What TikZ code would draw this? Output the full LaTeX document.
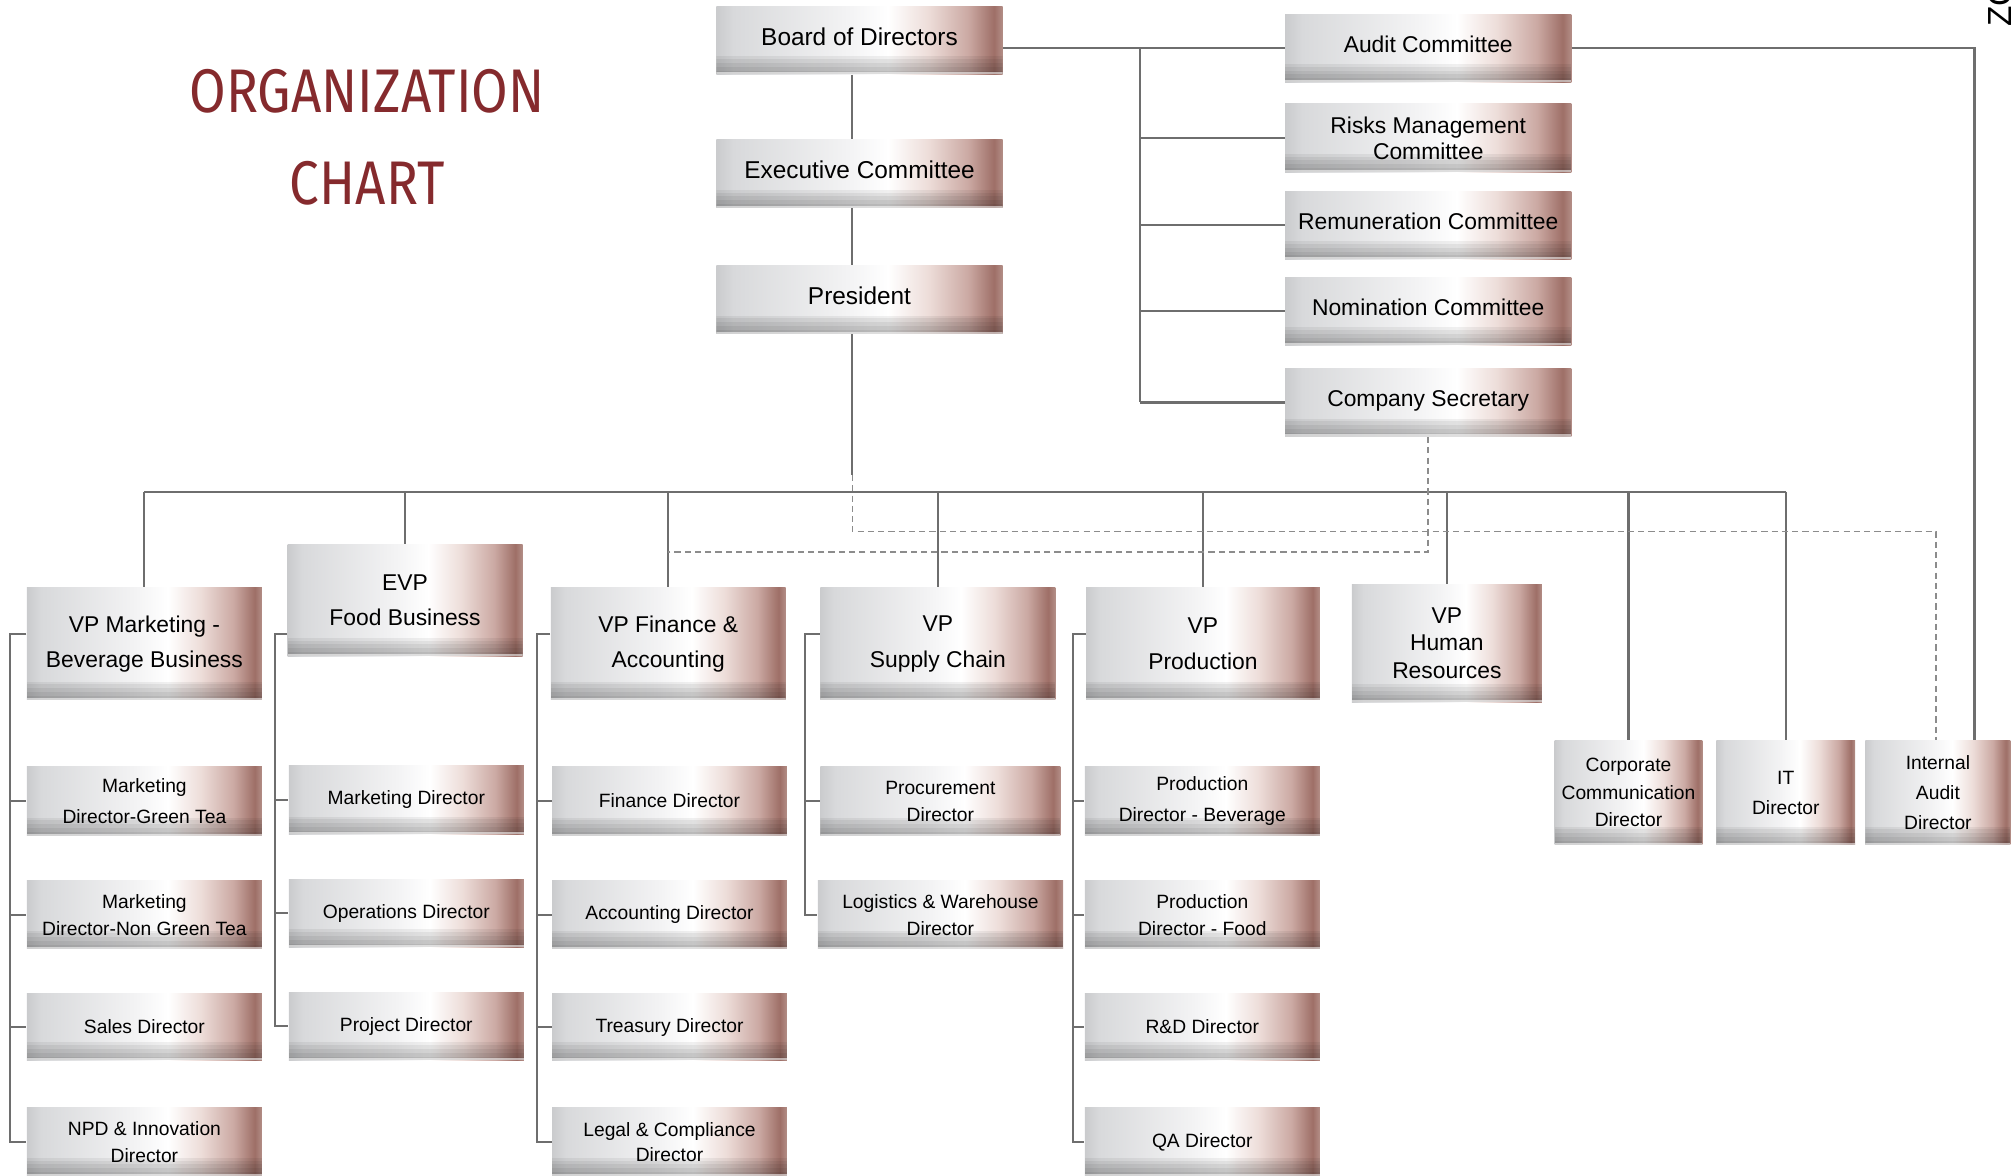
\documentclass[tikz,border=0pt]{standalone}
\usepackage{fontspec}
\setmainfont{Liberation Sans}
\newfontfamily\titlefont{Fira Sans}
\definecolor{sh0}{HTML}{CACBCD}
\definecolor{sh1}{HTML}{D8D9DB}
\definecolor{sh2}{HTML}{F3F3F4}
\definecolor{sh3}{HTML}{EDDDD9}
\definecolor{sh4}{HTML}{CBA9A3}
\definecolor{sh5}{HTML}{9E6F67}
\definecolor{sh6}{HTML}{B38E87}
\definecolor{linec}{HTML}{6E6E6E}
\definecolor{dashc}{HTML}{8C8C8C}
\definecolor{titlec}{HTML}{852A2D}
\pgfdeclarehorizontalshading{boxshade}{100bp}{color(0bp)=(sh0); color(25bp)=(sh0); color(28bp)=(sh1); color(48bp)=(sh2); color(55bp)=(white); color(62bp)=(sh3); color(69bp)=(sh4); color(73.5bp)=(sh5); color(75bp)=(sh6); color(100bp)=(sh6)}
\tikzset{
  obox/.style={rectangle, inner sep=1pt, align=center, shading=boxshade, text=black,
    path picture={
      \foreach \h in {1.5,3,4.5,6,7}
        \fill[black, opacity=0.06] (path picture bounding box.south west) rectangle ([yshift=\h pt]path picture bounding box.south east);
      \fill[white, opacity=0.55] (path picture bounding box.south west) rectangle ([yshift=0.8pt]path picture bounding box.south east);
    }},
  wh/.style 2 args={minimum width=#1, minimum height=#2},
  top/.style={obox, text depth=3pt, font=\fontsize{9.5}{13}\selectfont},
  com/.style={obox, text depth=3pt, font=\fontsize{8.9}{#1}\selectfont},
  com/.default=10,
  vp/.style={obox, font=\fontsize{8.9}{#1}\selectfont},
  vp/.default=13.5,
  sm/.style={obox, font=\fontsize{7.5}{#1}\selectfont},
  sm/.default=10.5,
  conn/.style={draw=linec, line width=0.8pt},
  dconn/.style={draw=dashc, line width=0.6pt, dash pattern=on 2.4pt off 1.6pt},
}
\begin{document}
\begin{tikzpicture}[x=0.5pt, y=-0.5pt]
\useasboundingbox (0,0) rectangle (1568,916);

% title
\node[anchor=base, text=titlec, font=\titlefont\fontsize{24}{24}\selectfont, inner sep=0] (t1) at (286,88) {\scalebox{0.86}[1]{ORGANIZATION}};
\node[anchor=base, text=titlec, font=\titlefont\fontsize{24}{24}\selectfont, inner sep=0] (t2) at (286,159) {\scalebox{0.86}[1]{CHART}};
\node[rotate=90, anchor=base west, font=\fontsize{13}{13}\selectfont, inner sep=0] (pg) at (1567,21) {ZC};

% top column
\node[top, wh={111.5pt}{26.5pt}] (B) at (669.5,31.5) {Board of Directors};
\node[top, wh={111.5pt}{26.5pt}] (E) at (669.5,135.5) {Executive Committee};
\node[top, wh={111.5pt}{26.5pt}] (P) at (669.5,233.5) {President};

% committees
\node[com, wh={111.5pt}{26.5pt}] (AC) at (1112.5,37.5) {Audit Committee};
\node[com, text depth=, wh={111.5pt}{26.5pt}] (RM) at (1112.5,107.5) {Risks Management\\Committee};
\node[com, wh={111.5pt}{26.5pt}] (RC) at (1112.5,175.5) {Remuneration Committee};
\node[com, wh={111.5pt}{26.5pt}] (NC) at (1112.5,242.5) {Nomination Committee};
\node[com, wh={111.5pt}{26.5pt}] (CS) at (1112.5,313.5) {Company Secretary};

% VP row
\node[vp, wh={91.5pt}{43.5pt}] (VPM) at (112.5,501.5) {VP Marketing -\\Beverage Business};
\node[vp, wh={91.5pt}{43.5pt}] (EVP) at (315.5,467.5) {EVP\\Food Business};
\node[vp, wh={91.5pt}{43.5pt}] (VPF) at (520.5,501.5) {VP Finance \&\\Accounting};
\node[vp=14, wh={91.5pt}{43.5pt}] (VPS) at (730.5,501.5) {VP\\Supply Chain};
\node[vp=14, wh={91pt}{43.5pt}] (VPP) at (937,501.5) {VP\\Production};
\node[vp=10.75, wh={74pt}{46pt}] (VPH) at (1127,501) {VP\\Human\\Resources};
\node[sm=10.75, wh={57.5pt}{40.5pt}] (CCD) at (1268.5,617.5) {Corporate\\Communication\\Director};
\node[sm=11.5, wh={54pt}{40.5pt}] (ITD) at (1391,617.5) {IT\\Director};
\node[sm=11.75, wh={56.5pt}{40.5pt}] (IAD) at (1509.5,617.5) {Internal\\Audit\\Director};

% column 1
\node[sm=12, wh={91.5pt}{27pt}] (M1) at (112.5,624) {Marketing\\Director-Green Tea};
\node[sm, wh={91.5pt}{26.5pt}] (M2) at (112.5,712.5) {Marketing\\Director-Non Green Tea};
\node[sm, wh={91.5pt}{26pt}] (M3) at (112.5,800) {Sales Director};
\node[sm, wh={91.5pt}{26.5pt}] (M4) at (112.5,889.5) {NPD \& Innovation\\Director};

% column 2
\node[sm, wh={91.5pt}{27pt}] (F1) at (316.5,623) {Marketing Director};
\node[sm, wh={91.5pt}{26.5pt}] (F2) at (316.5,711.5) {Operations Director};
\node[sm, wh={91.5pt}{26.5pt}] (F3) at (316.5,799.5) {Project Director};

% column 3
\node[sm, wh={91.5pt}{27pt}] (A1) at (521.5,624) {Finance Director};
\node[sm, wh={91.5pt}{26.5pt}] (A2) at (521.5,712.5) {Accounting Director};
\node[sm, wh={91.5pt}{26pt}] (A3) at (521.5,800) {Treasury Director};
\node[sm=10, wh={91.5pt}{26.5pt}] (A4) at (521.5,889.5) {Legal \& Compliance\\Director};

% column 4
\node[sm, wh={93.5pt}{27pt}] (S1) at (732.5,624) {Procurement\\Director};
\node[sm, wh={95.5pt}{26.5pt}] (S2) at (732.5,712.5) {Logistics \& Warehouse\\Director};

% column 5
\node[sm=12, wh={91.5pt}{27pt}] (P1) at (936.5,624) {Production\\Director - Beverage};
\node[sm, wh={91.5pt}{26.5pt}] (P2) at (936.5,712.5) {Production\\Director - Food};
\node[sm, wh={91.5pt}{26pt}] (P3) at (936.5,800) {R\&D Director};
\node[sm, wh={91.5pt}{26.5pt}] (P4) at (936.5,889.5) {QA Director};

% --- connectors ---
\draw[conn] ([xshift=-2.75pt]B.south) -- ([xshift=-2.75pt]E.north);
\draw[conn] ([xshift=-2.75pt]E.south) -- ([xshift=-2.75pt]P.north);
\coordinate (pb) at (664,370);
\draw[conn] ([xshift=-2.75pt]P.south) -- (pb);

% board to committees
\draw[conn] (B.east |- AC.west) -- (AC.west);
\coordinate (sp) at (888,0);
\draw[conn] (sp |- AC.west) -- (sp |- CS.west);
\foreach \n in {RM,RC,NC,CS} \draw[conn] (sp |- \n.west) -- (\n.west);
\draw[conn] (AC.east) -| ([xshift=14.25pt]IAD.north);

% bus
\coordinate (bus) at (0,383);
\draw[conn] (VPM.north |- bus) -- (ITD.north |- bus);
\foreach \n in {VPM,EVP,VPF,VPS,VPP,VPH,CCD,ITD} \draw[conn] (\n.north |- bus) -- (\n.north);

% dashed links
\coordinate (dk) at (664,414);
\draw[dconn] (pb) -- (dk) -| ([xshift=-0.75pt]IAD.north);
\coordinate (dk2) at (0,430);
\draw[dconn] (CS.south) |- (VPF.north |- dk2);

% brackets
\coordinate (k1) at (8,0);
\draw[conn] ([yshift=3.75pt]VPM.west) -| (k1 |- M4.west) -- (M4.west);
\foreach \n in {M1,M2,M3} \draw[conn] (k1 |- \n.west) -- (\n.west);
\coordinate (k2) at (214,0);
\draw[conn] ([yshift=-13.25pt]EVP.west) -| (k2 |- F3.west) -- (F3.west);
\foreach \n in {F1,F2} \draw[conn] (k2 |- \n.west) -- (\n.west);
\coordinate (k3) at (418,0);
\draw[conn] ([yshift=3.75pt]VPF.west) -| (k3 |- A4.west) -- (A4.west);
\foreach \n in {A1,A2,A3} \draw[conn] (k3 |- \n.west) -- (\n.west);
\coordinate (k4) at (627,0);
\draw[conn] ([yshift=3.75pt]VPS.west) -| (k4 |- S2.west) -- (S2.west);
\draw[conn] (k4 |- S1.west) -- (S1.west);
\coordinate (k5) at (836,0);
\draw[conn] ([yshift=3.75pt]VPP.west) -| (k5 |- P4.west) -- (P4.west);
\foreach \n in {P1,P2,P3} \draw[conn] (k5 |- \n.west) -- (\n.west);
\end{tikzpicture}
\end{document}
